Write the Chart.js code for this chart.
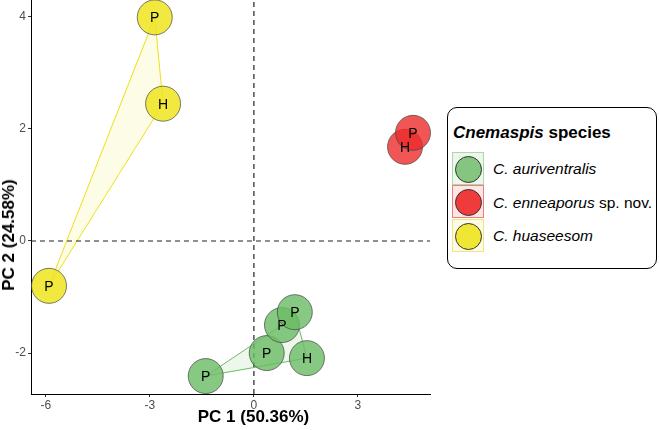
<!DOCTYPE html>
<html>
<head>
<meta charset="utf-8">
<script src="https://cdn.jsdelivr.net/npm/chart.js@4.4.1/dist/chart.umd.min.js"></script>
<style>
  body { margin:0; background:#fff; font-family:"Liberation Sans", Arial, sans-serif; }
  #wrap { position:relative; width:659px; height:430px; }
  canvas { position:absolute; left:0; top:0; }
  .ttl { position:absolute; font-weight:bold; font-size:17px; color:#000; white-space:nowrap; }
  #xt { left:253.5px; top:417px; transform:translate(-50%,-50%); }
  #yt { left:9px; top:235px; transform:translate(-50%,-50%) rotate(-90deg); }
  #legend { position:absolute; left:447px; top:107px; width:208px; height:160px; border:1.5px solid #000; border-radius:10px; background:#fff; }
  #legend .head { position:absolute; left:5px; top:15px; font-size:17px; font-weight:bold; white-space:nowrap; }
  .key { position:absolute; left:4px; width:30px; height:31px; border:1px solid; }
  .key .dot { position:absolute; left:2px; top:2.5px; width:25px; height:25px; border-radius:50%; border:0.8px solid #333; }
  .lab { position:absolute; left:45px; font-size:15.5px; white-space:nowrap; transform:translateY(-50%); }
</style>
</head>
<body>
<div id="wrap">
  <canvas id="c" width="659" height="430"></canvas>
  <div class="ttl" id="xt">PC 1 (50.36%)</div>
  <div class="ttl" id="yt">PC 2 (24.58%)</div>
  <div id="legend">
    <div class="head"><i>Cnemaspis</i> species</div>
    <div class="key" style="top:44px;border-color:#a6dca2;background:#eef7ed"><div class="dot" style="background:#84c67f"></div></div>
    <div class="key" style="top:77px;border-color:#f07c7c;background:#fde6e6"><div class="dot" style="background:#ef3b3b"></div></div>
    <div class="key" style="top:111px;border-color:#efe77a;background:#fdfbe6"><div class="dot" style="background:#f0e634"></div></div>
    <div class="lab" style="top:61px"><i>C. auriventralis</i></div>
    <div class="lab" style="top:95px"><i>C. enneaporus</i> sp. nov.</div>
    <div class="lab" style="top:128px"><i>C. huaseesom</i></div>
  </div>
</div>
<script>
// ---- data ----
const xTicks = [-6, -3, 0, 3];
const yTicks = [-2, 0, 2, 4];
const xRange = [-6.43, 5.08];
const yRange = [-2.73, 4.30];

const aurivX = [-1.39, 0.37, 0.81, 1.18, 1.53];
const aurivY = [-2.41, -2.00, -1.50, -1.27, -2.09];
const aurivL = ["P", "P", "P", "P", "H"];

const ennX = [4.36, 4.59];
const ennY = [1.68, 1.93];
const ennL = ["H", "P"];

const huaX = [-2.86, -2.62, -5.91];
const huaY = [3.99, 2.45, -0.80];
const huaL = ["P", "H", "P"];

// convex hull order (indices)
const aurivHull = [0, 2, 3, 4];
const ennHull = [0, 1];
const huaHull = [0, 1, 2];

const pts = (xs, ys) => xs.map((x, i) => ({x, y: ys[i]}));
const hull = (xs, ys, idx) => idx.concat([idx[0]]).map(i => ({x: xs[i], y: ys[i]}));

const GREEN = 'rgba(108,188,102,0.82)';
const RED = 'rgba(236,44,44,0.8)';
const YEL = 'rgba(238,228,30,0.85)';

function pointSet(xs, ys, labels, color) {
  return {
    type: 'scatter', data: pts(xs, ys), labelsText: labels,
    backgroundColor: color, borderColor: '#444', borderWidth: 0.7,
    pointRadius: 17.5, pointHoverRadius: 17.5, clip: false, order: 1
  };
}
function hullSet(xs, ys, idx, line, fillc) {
  return {
    type: 'line', data: hull(xs, ys, idx), borderColor: line, borderWidth: 1,
    backgroundColor: fillc, fill: 'shape', pointRadius: 0, tension: 0, order: 3, clip: false
  };
}

const labelPlugin = {
  id: 'ptlabels',
  afterDatasetsDraw(chart) {
    const ctx = chart.ctx;
    ctx.save();
    ctx.font = '14px "Liberation Sans", Arial, sans-serif';
    ctx.fillStyle = '#000';
    ctx.textAlign = 'center';
    ctx.textBaseline = 'middle';
    chart.data.datasets.forEach((ds, di) => {
      if (!ds.labelsText) return;
      const meta = chart.getDatasetMeta(di);
      meta.data.forEach((el, i) => {
        ctx.fillText(ds.labelsText[i], el.x, el.y + 1);
      });
    });
    ctx.restore();
  }
};

new Chart(document.getElementById('c'), {
  type: 'scatter',
  data: {
    datasets: [
      pointSet(huaX, huaY, huaL, YEL),
      pointSet(ennX, ennY, ennL, RED),
      pointSet(aurivX, aurivY, aurivL, GREEN),
      {type:'line', data:[{x:0,y:yRange[0]},{x:0,y:yRange[1]}], borderColor:'#222', borderWidth:1.2, borderDash:[5,4], pointRadius:0, order:2, fill:false},
      {type:'line', data:[{x:xRange[0],y:0},{x:xRange[1],y:0}], borderColor:'#222', borderWidth:1.2, borderDash:[5,4], pointRadius:0, order:2, fill:false},
      hullSet(huaX, huaY, huaHull, 'rgba(235,225,20,1)', 'rgba(240,232,60,0.12)'),
      hullSet(ennX, ennY, ennHull, 'rgba(236,44,44,1)', 'rgba(236,44,44,0.12)'),
      hullSet(aurivX, aurivY, aurivHull, 'rgba(108,188,102,1)', 'rgba(108,188,102,0.12)')
    ]
  },
  options: {
    responsive: false, animation: false,
    layout: { autoPadding: false, padding: { left: 0, top: 0, right: 229, bottom: 0 } },
    plugins: { legend: { display: false }, tooltip: { enabled: false } },
    scales: {
      x: {
        type: 'linear', min: xRange[0], max: xRange[1],
        afterBuildTicks: s => { s.ticks = xTicks.map(v => ({value: v})); },
        afterFit: s => { s.height = 36; s.paddingLeft = 0; s.paddingRight = 0; },
        grid: { display: true, drawOnChartArea: false, drawTicks: true, tickLength: 3, tickColor: '#333' },
        border: { display: true, color: '#000', width: 1 },
        ticks: { color: '#4d4d4d', font: { size: 12, family: '"Liberation Sans", Arial' }, padding: 1, maxRotation: 0 }
      },
      y: {
        type: 'linear', min: yRange[0], max: yRange[1],
        afterBuildTicks: s => { s.ticks = yTicks.map(v => ({value: v})); },
        afterFit: s => { s.width = 31; s.paddingTop = 0; s.paddingBottom = 0; },
        grid: { display: true, drawOnChartArea: false, drawTicks: true, tickLength: 3, tickColor: '#333' },
        border: { display: true, color: '#000', width: 1 },
        ticks: { color: '#4d4d4d', font: { size: 12, family: '"Liberation Sans", Arial' }, padding: 2 }
      }
    }
  },
  plugins: [labelPlugin]
});
</script>
</body>
</html>
